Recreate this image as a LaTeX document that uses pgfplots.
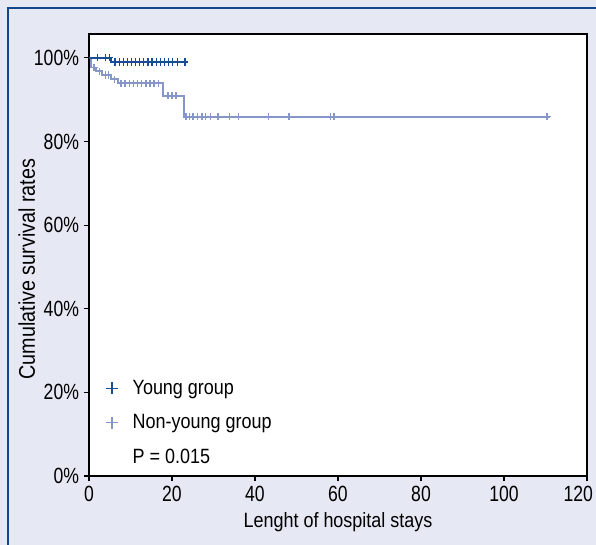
\documentclass[border=0pt]{standalone}
\usepackage{fontspec}
\setmainfont{Liberation Sans}[FakeStretch=0.87]
\newfontfamily\condensed{Liberation Sans}[FakeStretch=0.8]
\usepackage{pgfplots}
\pgfplotsset{compat=1.18}
\definecolor{bg}{RGB}{230,232,243}
\definecolor{frameblue}{RGB}{20,70,140}
\definecolor{young}{RGB}{25,75,150}
\definecolor{nonyoung}{RGB}{135,150,200}
\newcommand{\lab}{\fontsize{15.5pt}{18pt}\selectfont}
\newcommand{\ylab}{\fontsize{17pt}{20pt}\selectfont}
\newcommand{\tlab}{\condensed\fontsize{16.5pt}{19pt}\selectfont}
\begin{document}
\begin{tikzpicture}[x=1pt,y=1pt]
\useasboundingbox (0,0) rectangle (447,408.75);
\fill[bg] (0,0) rectangle (447,408.75);
\draw[frameblue, line width=1pt] (6,0) -- (6,402.75) -- (447,402.75);
\begin{axis}[
  at={(66.75pt,51.75pt)}, anchor=south west,
  width=373.5pt, height=331.5pt, scale only axis,
  xmin=0, xmax=120, ymin=0, ymax=105.7,
  xtick={0,20,...,120}, ytick={0,20,...,100},
  xticklabels={0,20,40,60,80,100,{\hbox to 0pt{\hss 120\hspace{-4.5pt}}}},
  yticklabel={\pgfmathprintnumber{\tick}\%},
  /pgf/number format/assume math mode=true,
  tick pos=left, tick align=outside, major tick length=4pt,
  tick style={black, line width=0.8pt},
  axis line style={black, line width=0.8pt},
  axis background/.style={fill=white},
  tick label style={font=\tlab},
  xlabel={Lenght of hospital stays},
  ylabel={Cumulative survival rates},
  xlabel style={font=\lab, at={(axis description cs:0.5,0)}, anchor=center, yshift=-34.5pt},
  ylabel style={font=\ylab, at={([xshift=-46.75pt]axis description cs:0,0.468)}, anchor=center},
  legend style={font=\lab, at={(axis description cs:0,0)}, anchor=south west,
    draw=none, fill=none, row sep=9.5pt, xshift=5.5pt, yshift=4pt,
    /tikz/every odd column/.append style={column sep=9pt}},
  legend cell align=left,
  clip=false,
]
\addlegendimage{only marks, mark=+, mark size=4.5pt, young, line width=1pt}
\addlegendentry{Young group}
\addlegendimage{only marks, mark=+, mark size=4.5pt, nonyoung, line width=1pt}
\addlegendentry{Non-young group}
\addlegendimage{empty legend}
\addlegendentry{P = 0.015}

% Non-young group KM curve
\addplot[const plot, nonyoung, line width=1.4pt, forget plot] coordinates {
(0,100) (0.5,97.7) (1.7,96.8) (3.1,95.9) (5.3,94.9) (6.9,93.9) (17.9,90.9) (22.9,85.9) (111,85.9)
};
\addplot[only marks, mark=+, mark size=2.7pt, nonyoung, line width=1pt, forget plot] coordinates {
(1.2,97.7) (2.5,96.8) (3.9,95.9) (4.7,95.9) (6.1,94.9)
(7.7,93.9) (8.7,93.9) (9.7,93.9) (10.7,93.9) (11.7,93.9) (12.7,93.9) (13.7,93.9) (14.7,93.9) (15.7,93.9) (16.7,93.9)
(19.0,90.9) (20.0,90.9) (21.0,90.9)
(23.4,85.9) (24.2,85.9) (25.1,85.9) (26.1,85.9) (27.2,85.9) (28.1,85.9) (29.2,85.9) (31.1,85.9) (33.9,85.9) (36.1,85.9) (43.2,85.9) (48.2,85.9) (58.2,85.9) (59.0,85.9) (110.4,85.9)
};
% Young group KM curve
\addplot[const plot, young, line width=1.4pt, forget plot] coordinates {
(0,100) (5.3,99.0) (23.5,99.0)
};
\addplot[only marks, mark=+, mark size=2.7pt, young, line width=1pt, forget plot] coordinates {
(2.1,100) (3.9,100) (4.9,100)
(6.3,99) (7.3,99) (8.3,99) (9.2,99) (10.2,99) (11.2,99) (12.2,99) (13.2,99) (14.2,99) (15.2,99) (16.2,99) (17.2,99) (18.2,99) (19.2,99) (20.2,99) (21.3,99) (23.1,99)
};
\end{axis}
\end{tikzpicture}
\end{document}
